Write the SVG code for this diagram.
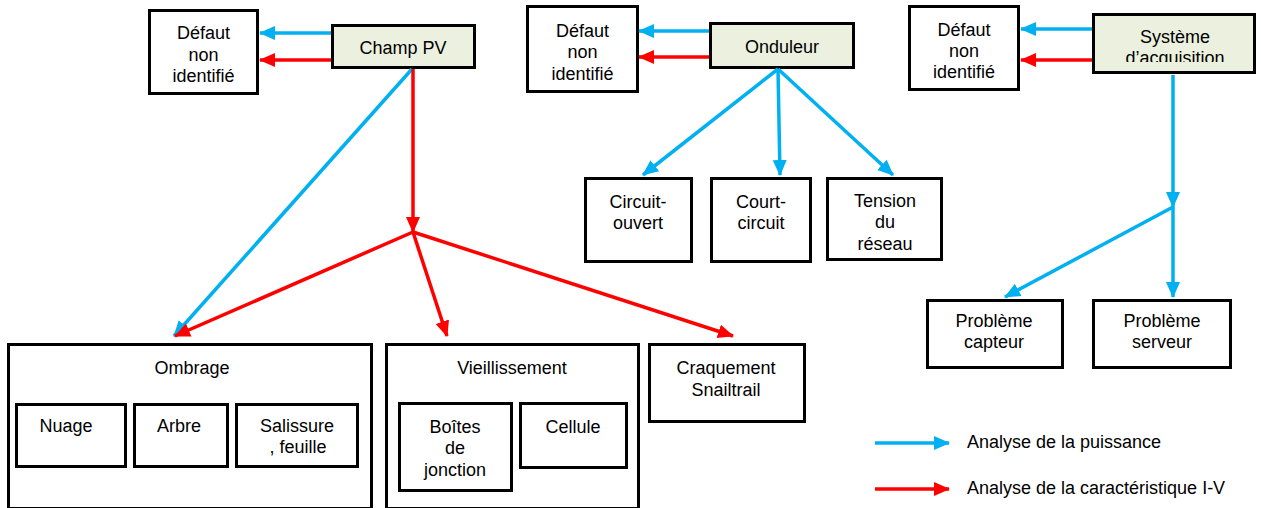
<svg xmlns="http://www.w3.org/2000/svg" width="1261" height="508" viewBox="0 0 1261 508">
<style>
text{font-family:"Liberation Sans",Arial,sans-serif;font-size:18px;fill:#000;text-anchor:middle}
.box{fill:#fff;stroke:#000;stroke-width:3}
.src{fill:#EBF1DE;stroke:#000;stroke-width:3}
.b{stroke:#00B0F0;stroke-width:3.5;fill:none}
.r{stroke:#FF0000;stroke-width:3.5;fill:none}
.lg{text-anchor:start}
</style>
<defs>
<marker id="ab" markerUnits="userSpaceOnUse" markerWidth="16" markerHeight="16" viewBox="0 0 16 16" refX="15" refY="8" orient="auto"><path d="M0,1 L16,8 L0,15 z" fill="#00B0F0"/></marker>
<marker id="ar" markerUnits="userSpaceOnUse" markerWidth="16" markerHeight="16" viewBox="0 0 16 16" refX="15" refY="8" orient="auto"><path d="M0,1 L16,8 L0,15 z" fill="#FF0000"/></marker>
<clipPath id="clipSys"><rect x="1093" y="14" width="162" height="48"/></clipPath>
</defs>
<rect width="1261" height="508" fill="#fff"/>

<g id="defaut1"><rect class="box" x="149.5" y="10.5" width="108" height="83"/><text x="203.5" y="39">Défaut</text><text x="203.5" y="61">non</text><text x="203.5" y="82">identifié</text></g>
<g id="champpv"><rect class="src" x="332.5" y="25.5" width="142" height="42"/><text x="403" y="54">Champ PV</text></g>
<g id="defaut2"><rect class="box" x="527.5" y="6.5" width="110" height="85"/><text x="582.5" y="37">Défaut</text><text x="582.5" y="58">non</text><text x="582.5" y="80">identifié</text></g>
<g id="onduleur"><rect class="src" x="710.5" y="23.5" width="143" height="44"/><text x="782" y="53">Onduleur</text></g>
<g id="defaut3"><rect class="box" x="909.5" y="6.5" width="109" height="83"/><text x="964" y="36">Défaut</text><text x="964" y="57">non</text><text x="964" y="78">identifié</text></g>
<g id="systeme"><rect class="src" x="1093.5" y="14.5" width="161" height="58"/><text x="1175" y="43">Système</text><text x="1175" y="63.5" clip-path="url(#clipSys)">d’acquisition</text></g>

<g id="circuit"><rect class="box" x="585.5" y="178.5" width="106" height="83"/><text x="638" y="208">Circuit-</text><text x="638" y="229">ouvert</text></g>
<g id="court"><rect class="box" x="711.5" y="178.5" width="99" height="83"/><text x="761" y="208">Court-</text><text x="761" y="229">circuit</text></g>
<g id="tension"><rect class="box" x="827.5" y="178.5" width="114" height="81"/><text x="885" y="207">Tension</text><text x="885" y="228">du</text><text x="885" y="250">réseau</text></g>

<g id="capteur"><rect class="box" x="927.5" y="300.5" width="135" height="67"/><text x="994" y="327">Problème</text><text x="994" y="348">capteur</text></g>
<g id="serveur"><rect class="box" x="1093.5" y="300.5" width="137" height="67"/><text x="1162" y="327">Problème</text><text x="1162" y="348">serveur</text></g>

<g id="ombrage"><rect class="box" x="8.5" y="344.5" width="363" height="164"/><text x="192" y="374">Ombrage</text>
<g id="nuage"><rect class="box" x="16.5" y="404.5" width="109" height="62"/><text x="66" y="432">Nuage</text></g>
<g id="arbre"><rect class="box" x="134.5" y="404.5" width="93" height="62"/><text x="179" y="432">Arbre</text></g>
<g id="salissure"><rect class="box" x="236.5" y="404.5" width="121" height="62"/><text x="297" y="432">Salissure</text><text x="298" y="453">, feuille</text></g>
</g>
<g id="vieillissement"><rect class="box" x="386.5" y="344.5" width="252" height="164"/><text x="512" y="374">Vieillissement</text>
<g id="boites"><rect class="box" x="399.5" y="403.5" width="112" height="87"/><text x="455" y="433">Boîtes</text><text x="455" y="454">de</text><text x="455" y="476">jonction</text></g>
<g id="cellule"><rect class="box" x="520.5" y="403.5" width="106" height="64"/><text x="573" y="433">Cellule</text></g>
</g>
<g id="craquement"><rect class="box" x="649.5" y="344.5" width="155" height="77"/><text x="726" y="374">Craquement</text><text x="726" y="396">Snailtrail</text></g>

<g id="connectors">
<line class="b" x1="331" y1="33" x2="260" y2="33" marker-end="url(#ab)"/>
<line class="r" x1="331" y1="60" x2="260" y2="60" marker-end="url(#ar)"/>
<line class="b" x1="709" y1="31" x2="639" y2="31" marker-end="url(#ab)"/>
<line class="r" x1="709" y1="57" x2="639" y2="57" marker-end="url(#ar)"/>
<line class="b" x1="1092" y1="29" x2="1021" y2="29" marker-end="url(#ab)"/>
<line class="r" x1="1092" y1="60" x2="1021" y2="60" marker-end="url(#ar)"/>
<line class="b" x1="412" y1="69" x2="174" y2="336" marker-end="url(#ab)"/>
<line class="r" x1="413" y1="69" x2="413" y2="232" marker-end="url(#ar)"/>
<line class="r" x1="413" y1="232" x2="175" y2="336" marker-end="url(#ar)"/>
<line class="r" x1="413" y1="232" x2="447" y2="336" marker-end="url(#ar)"/>
<line class="r" x1="413" y1="232" x2="733" y2="336" marker-end="url(#ar)"/>
<line class="b" x1="778" y1="69" x2="643" y2="175" marker-end="url(#ab)"/>
<line class="b" x1="778" y1="69" x2="780" y2="175" marker-end="url(#ab)"/>
<line class="b" x1="778" y1="69" x2="893" y2="175" marker-end="url(#ab)"/>
<line class="b" x1="1173" y1="75" x2="1173" y2="207" marker-end="url(#ab)"/>
<line class="b" x1="1173" y1="207" x2="1005" y2="297" marker-end="url(#ab)"/>
<line class="b" x1="1173" y1="207" x2="1173" y2="297" marker-end="url(#ab)"/>
</g>

<g id="legend">
<line class="b" x1="875" y1="443" x2="949" y2="443" marker-end="url(#ab)"/>
<text class="lg" x="967" y="448">Analyse de la puissance</text>
<line class="r" x1="875" y1="489" x2="949" y2="489" marker-end="url(#ar)"/>
<text class="lg" x="967" y="494">Analyse de la caractéristique I-V</text>
</g>
</svg>
